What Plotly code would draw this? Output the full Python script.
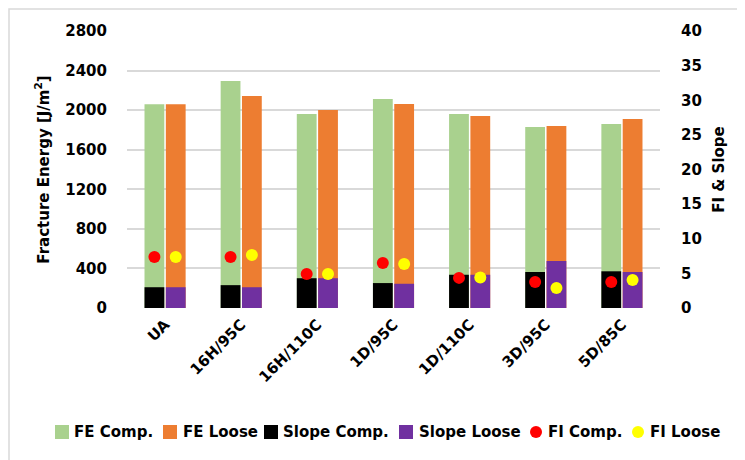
import plotly.graph_objects as go

categories = ["UA", "16H/95C", "16H/110C", "1D/95C", "1D/110C", "3D/95C", "5D/85C"]
fe_comp = [2059, 2295, 1961, 2113, 1961, 1830, 1860]
fe_loose = [2060, 2143, 2001, 2062, 1941, 1840, 1911]
slope_comp = [3.0, 3.3, 4.3, 3.6, 4.8, 5.2, 5.3]
slope_loose = [3.0, 3.0, 4.3, 3.5, 4.8, 6.8, 5.2]
fi_comp = [7.35, 7.35, 4.9, 6.5, 4.35, 3.75, 3.75]
fi_loose = [7.35, 7.65, 4.9, 6.35, 4.4, 2.9, 4.05]
left_ticks = [0, 400, 800, 1200, 1600, 2000, 2400, 2800]
right_ticks = [0, 5, 10, 15, 20, 25, 30, 35, 40]
series_names = ["FE Comp.", "FE Loose", "Slope Comp.", "Slope Loose", "FI Comp.", "FI Loose"]

W, H = 745, 460
OFF = 8  # page body margin: the figure is drawn 8px right/down of the window corner
# target plot-area edges in window pixels
PL, PR, PT, PB = 127, 660, 31, 308
ML, MT = PL - OFF, PT - OFF
MR, MB = W - (PR - OFF), H - (PB - OFF)
pw, ph = PR - PL, PB - PT
bar_w = 0.26
off = 0.14
FONT = "DejaVu Sans"
FS = 15

colors = ["#A9D18E", "#ED7D31", "#000000", "#7030A0", "#FF0000", "#FFFF00"]

idx = list(range(len(categories)))
x_c = [i - off for i in idx]
x_l = [i + off for i in idx]

fig = go.Figure()
fig.add_trace(go.Bar(x=x_c, y=fe_comp, width=bar_w, name=series_names[0], marker_color=colors[0], marker_line_width=0))
fig.add_trace(go.Bar(x=x_l, y=fe_loose, width=bar_w, name=series_names[1], marker_color=colors[1], marker_line_width=0))
fig.add_trace(go.Bar(x=x_c, y=slope_comp, width=bar_w, name=series_names[2], marker_color=colors[2], marker_line_width=0, yaxis="y2"))
fig.add_trace(go.Bar(x=x_l, y=slope_loose, width=bar_w, name=series_names[3], marker_color=colors[3], marker_line_width=0, yaxis="y2"))
fig.add_trace(go.Scatter(x=x_c, y=fi_comp, mode="markers", name=series_names[4], marker=dict(color=colors[4], size=12), yaxis="y2"))
fig.add_trace(go.Scatter(x=x_l, y=fi_loose, mode="markers", name=series_names[5], marker=dict(color=colors[5], size=12), yaxis="y2"))

tickfont = dict(family=FONT, size=FS, color="#000000", weight="bold")
titlefont = dict(family=FONT, size=FS, color="#000000", weight="bold")

fig.update_layout(
    width=W, height=H,
    margin=dict(l=ML, r=MR, t=MT, b=MB, autoexpand=False),
    paper_bgcolor="white", plot_bgcolor="white",
    barmode="overlay",
    showlegend=False,
    font=dict(family=FONT, color="#000000"),
    xaxis=dict(
        range=[-0.5, len(categories) - 0.5],
        tickvals=idx, ticktext=categories, tickangle=-45,
        tickfont=tickfont, showgrid=False, zeroline=False,
        showline=False, ticks="", ticklabelstandoff=4, automargin=False,
    ),
    yaxis=dict(
        range=[0, left_ticks[-1]], tickvals=left_ticks,
        tickfont=tickfont, showgrid=True, gridcolor="#D9D9D9", gridwidth=1.5,
        zeroline=False, showline=False, ticks="", ticklabelstandoff=19, automargin=False,
        title=dict(text="Fracture Energy [J/m<sup>2</sup>]", font=titlefont, standoff=12),
    ),
    yaxis2=dict(
        range=[0, right_ticks[-1]], tickvals=right_ticks, overlaying="y", side="right",
        tickfont=tickfont, showgrid=False, zeroline=False, showline=False, ticks="",
        ticklabelstandoff=20, automargin=False,
        title=dict(text="FI & Slope", font=titlefont, standoff=12),
    ),
)

def px_x(p):
    return (p - PL) / pw

def px_y(p):
    return 1 - (p - PT) / ph

# manual legend (one row, like the reference); window-pixel positions
leg_y = 432
sym_left = [55, 163, 264, 399, 530, 632]
text_left = [72, 181, 281, 417, 546, 648]
sym_kind = ["square", "square", "square", "square", "circle", "circle"]
for name, col, sx, tx, kind in zip(series_names, colors, sym_left, text_left, sym_kind):
    if kind == "square":
        fig.add_shape(type="rect", xref="paper", yref="paper",
                      x0=px_x(sx), x1=px_x(sx + 14), y0=px_y(leg_y + 7), y1=px_y(leg_y - 7),
                      fillcolor=col, line_width=0)
    else:
        fig.add_shape(type="circle", xref="paper", yref="paper",
                      x0=px_x(sx), x1=px_x(sx + 12), y0=px_y(leg_y + 6), y1=px_y(leg_y - 6),
                      fillcolor=col, line_width=0)
    fig.add_annotation(text=name, xref="paper", yref="paper", x=px_x(tx), y=px_y(leg_y),
                       xanchor="left", yanchor="middle", showarrow=False,
                       font=dict(family=FONT, size=FS, color="#000000", weight="bold"))

# light chart-area border (as close to the window corner as the page allows)
fig.add_shape(type="rect", xref="paper", yref="paper",
              x0=px_x(OFF + 1), x1=px_x(W + 20), y0=px_y(H + 20), y1=px_y(OFF + 1),
              line=dict(color="#D9D9D9", width=1.5), fillcolor="rgba(0,0,0,0)", layer="below")

fig.write_html("out.html")
